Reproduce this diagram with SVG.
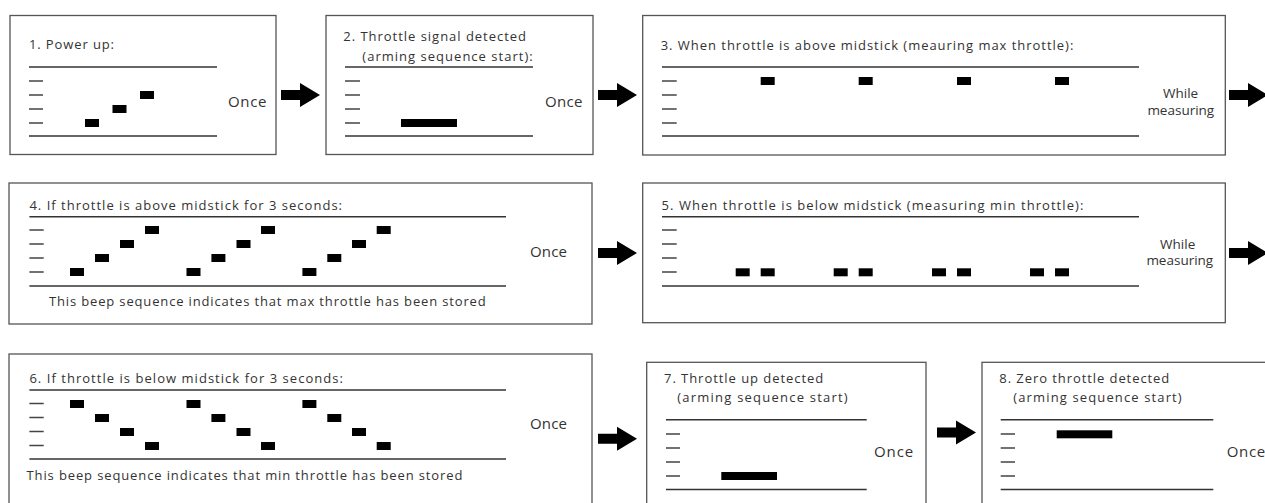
<svg xmlns="http://www.w3.org/2000/svg" xmlns:xlink="http://www.w3.org/1999/xlink" width="1265" height="503" viewBox="0 0 1265 503">
<style>
.box{fill:#fff;stroke:#555;stroke-width:1.3}
.rule{stroke:#333;stroke-width:1.4;fill:none}
.tick{stroke:#444;stroke-width:1.3;fill:none}
.bar{fill:#000}
.t{font-family:"Open Sans","DejaVu Sans",sans-serif;font-size:13px;fill:#333}
.once{font-family:"Open Sans","DejaVu Sans",sans-serif;font-size:15px;fill:#333}
.wm{font-family:"Open Sans","DejaVu Sans",sans-serif;font-size:13.5px;fill:#333;text-anchor:middle}
.arr{fill:#000}
</style>
<defs>
<path id="arrow" d="M0,0 L-20,-12 L-20,-5 L-39,-5 L-39,5 L-20,5 L-20,12 Z"/>
</defs>
<rect width="1265" height="503" fill="#fff"/>

<g id="node1">
<rect class="box" x="10" y="15.5" width="266" height="139"/>
<text class="t" x="29" y="49" textLength="85" lengthAdjust="spacing">1. Power up:</text>
<line class="rule" x1="29" y1="67" x2="217" y2="67"/>
<line class="rule" x1="29" y1="136" x2="217" y2="136"/>
<path class="tick" d="M29,81h14M29,95h14M29,109h14M29,123h14"/>
<rect class="bar" x="85" y="119" width="14" height="8"/>
<rect class="bar" x="112.5" y="105" width="14" height="8"/>
<rect class="bar" x="140" y="91" width="14" height="8"/>
<text class="once" x="228" y="106.5" textLength="38.5" lengthAdjust="spacing">Once</text>
</g>

<g id="node2">
<rect class="box" x="326" y="15.5" width="267" height="139"/>
<text class="t" x="343.3" y="41" textLength="182.7" lengthAdjust="spacing">2. Throttle signal detected</text>
<text class="t" x="362.3" y="60.5" textLength="170.4" lengthAdjust="spacing">(arming sequence start):</text>
<line class="rule" x1="345" y1="67" x2="533" y2="67"/>
<line class="rule" x1="345" y1="136" x2="533" y2="136"/>
<path class="tick" d="M345,81h15M345,95h15M345,109h15M345,123h15"/>
<rect class="bar" x="401" y="119" width="56" height="8"/>
<text class="once" x="545" y="106.5" textLength="37.5" lengthAdjust="spacing">Once</text>
</g>

<g id="node3">
<rect class="box" x="642.7" y="15.5" width="582.6" height="139.5"/>
<text class="t" x="660.7" y="50" textLength="412.6" lengthAdjust="spacing">3. When throttle is above midstick (meauring max throttle):</text>
<line class="rule" x1="662" y1="67" x2="1139" y2="67"/>
<line class="rule" x1="662" y1="136" x2="1139" y2="136"/>
<path class="tick" d="M662,81h14.7M662,95h14.7M662,109h14.7M662,123h14.7"/>
<rect class="bar" x="760.7" y="77" width="14" height="8"/>
<rect class="bar" x="858.7" y="77" width="14" height="8"/>
<rect class="bar" x="957" y="77" width="14" height="8"/>
<rect class="bar" x="1055" y="77" width="14" height="8"/>
<text class="wm" x="1180.6" y="98.3">While</text>
<text class="wm" x="1180.8" y="114.8">measuring</text>
</g>

<g id="node4">
<rect class="box" x="9" y="183" width="583" height="141"/>
<text class="t" x="29.4" y="210" textLength="312.6" lengthAdjust="spacing">4. If throttle is above midstick for 3 seconds:</text>
<line class="rule" x1="29.4" y1="216.7" x2="506" y2="216.7"/>
<line class="rule" x1="29.4" y1="286" x2="506" y2="286"/>
<path class="tick" d="M29.4,230h14.3M29.4,244h14.3M29.4,258h14.3M29.4,272h14.3"/>
<rect class="bar" x="70" y="268" width="14" height="8"/>
<rect class="bar" x="95" y="254" width="14" height="8"/>
<rect class="bar" x="120" y="240" width="14" height="8"/>
<rect class="bar" x="145" y="226" width="14" height="8"/>
<rect class="bar" x="186.5" y="268" width="14" height="8"/>
<rect class="bar" x="211.4" y="254" width="14" height="8"/>
<rect class="bar" x="236.5" y="240" width="14" height="8"/>
<rect class="bar" x="261" y="226" width="14" height="8"/>
<rect class="bar" x="302.4" y="268" width="14" height="8"/>
<rect class="bar" x="327.3" y="254" width="14" height="8"/>
<rect class="bar" x="352" y="240" width="14" height="8"/>
<rect class="bar" x="376.7" y="226" width="14" height="8"/>
<text class="once" x="530" y="257" textLength="37" lengthAdjust="spacing">Once</text>
<text class="t" x="49" y="305.7" textLength="436.7" lengthAdjust="spacing">This beep sequence indicates that max throttle has been stored</text>
</g>

<g id="node5">
<rect class="box" x="642.7" y="183" width="582.6" height="139.7"/>
<text class="t" x="661.5" y="210" textLength="421.8" lengthAdjust="spacing">5. When throttle is below midstick (measuring min throttle):</text>
<line class="rule" x1="662" y1="216.7" x2="1139" y2="216.7"/>
<line class="rule" x1="662" y1="286" x2="1139" y2="286"/>
<path class="tick" d="M662,230h14.7M662,244h14.7M662,258h14.7M662,272h14.7"/>
<rect class="bar" x="735.7" y="268.3" width="14" height="8"/>
<rect class="bar" x="760.7" y="268.3" width="14" height="8"/>
<rect class="bar" x="833.7" y="268.3" width="14" height="8"/>
<rect class="bar" x="858.7" y="268.3" width="14" height="8"/>
<rect class="bar" x="932" y="268.3" width="14" height="8"/>
<rect class="bar" x="957" y="268.3" width="14" height="8"/>
<rect class="bar" x="1030" y="268.3" width="14" height="8"/>
<rect class="bar" x="1055" y="268.3" width="14" height="8"/>
<text class="wm" x="1177.7" y="248.5">While</text>
<text class="wm" x="1179.8" y="265">measuring</text>
</g>

<g id="node6">
<rect class="box" x="9" y="354" width="583" height="160"/>
<text class="t" x="29.4" y="383.3" textLength="313.5" lengthAdjust="spacing">6. If throttle is below midstick for 3 seconds:</text>
<line class="rule" x1="29.4" y1="390" x2="506" y2="390"/>
<line class="rule" x1="29.4" y1="459" x2="506" y2="459"/>
<path class="tick" d="M29.4,403.5h14.3M29.4,417.5h14.3M29.4,431.5h14.3M29.4,445.5h14.3"/>
<rect class="bar" x="70" y="400" width="14" height="8"/>
<rect class="bar" x="95" y="414" width="14" height="8"/>
<rect class="bar" x="120" y="428" width="14" height="8"/>
<rect class="bar" x="145" y="442" width="14" height="8"/>
<rect class="bar" x="186.5" y="400" width="14" height="8"/>
<rect class="bar" x="211.4" y="414" width="14" height="8"/>
<rect class="bar" x="236.5" y="428" width="14" height="8"/>
<rect class="bar" x="261" y="442" width="14" height="8"/>
<rect class="bar" x="302.4" y="400" width="14" height="8"/>
<rect class="bar" x="327.3" y="414" width="14" height="8"/>
<rect class="bar" x="352" y="428" width="14" height="8"/>
<rect class="bar" x="376.7" y="442" width="14" height="8"/>
<text class="once" x="530" y="429.3" textLength="37" lengthAdjust="spacing">Once</text>
<text class="t" x="26.5" y="480" textLength="435.9" lengthAdjust="spacing">This beep sequence indicates that min throttle has been stored</text>
</g>

<g id="node7">
<rect class="box" x="646.7" y="362.3" width="279.3" height="160"/>
<text class="t" x="664" y="382.7" textLength="159.3" lengthAdjust="spacing">7. Throttle up detected</text>
<text class="t" x="677.3" y="402" textLength="170.4" lengthAdjust="spacing">(arming sequence start)</text>
<line class="rule" x1="666" y1="419.7" x2="866.7" y2="419.7"/>
<line class="rule" x1="666" y1="489.5" x2="866.7" y2="489.5"/>
<path class="tick" d="M666,434h14M666,448h14M666,462h14M666,476h14"/>
<rect class="bar" x="721.3" y="472" width="55.7" height="8"/>
<text class="once" x="874" y="456.7" textLength="39.3" lengthAdjust="spacing">Once</text>
</g>

<g id="node8">
<rect class="box" x="982" y="362.3" width="300" height="160"/>
<text class="t" x="999.3" y="382.7" textLength="170" lengthAdjust="spacing">8. Zero throttle detected</text>
<text class="t" x="1013.3" y="402" textLength="168.4" lengthAdjust="spacing">(arming sequence start)</text>
<line class="rule" x1="1000.7" y1="419.7" x2="1213.3" y2="419.7"/>
<line class="rule" x1="1000.7" y1="489.5" x2="1213.3" y2="489.5"/>
<path class="tick" d="M1000.7,434h14.3M1000.7,448h14.3M1000.7,462h14.3M1000.7,476h14.3"/>
<rect class="bar" x="1056.7" y="430.3" width="55.6" height="8"/>
<text class="once" x="1226.7" y="456.7" textLength="38.5" lengthAdjust="spacing">Once</text>
</g>

<g id="connectors" class="arr">
<use xlink:href="#arrow" x="320" y="95"/>
<use xlink:href="#arrow" x="637" y="95"/>
<use xlink:href="#arrow" x="1268" y="95"/>
<use xlink:href="#arrow" x="637" y="253"/>
<use xlink:href="#arrow" x="1268" y="253"/>
<use xlink:href="#arrow" x="637" y="438.7"/>
<use xlink:href="#arrow" x="976" y="432.5"/>
</g>
</svg>
